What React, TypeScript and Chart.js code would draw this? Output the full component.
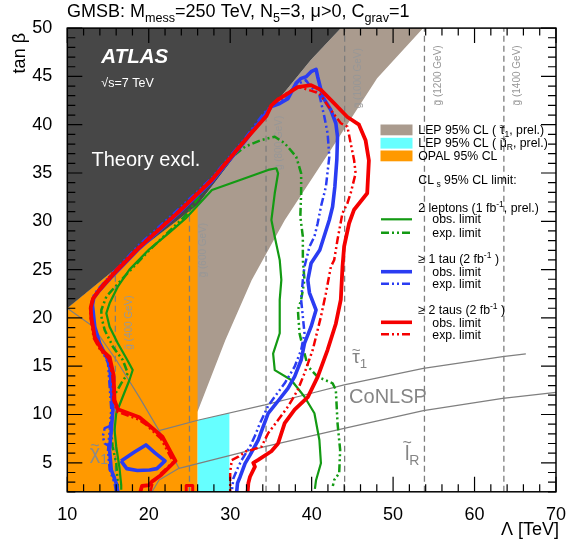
import React, { useEffect, useRef } from "react";
import { Chart, registerables } from "chart.js";

Chart.register(...registerables);

type Pt = [number, number];

// ---------- axes ----------
const lambdaRange: Pt = [10, 70];
const tanbRange: Pt = [2, 50];
const xTickValues = [10, 20, 30, 40, 50, 60, 70];
const yTickValues = [5, 10, 15, 20, 25, 30, 35, 40, 45, 50];
const xMinorStep = 2;
const yMinorStep = 1;

// ---------- excluded regions ----------
const theoryBoundary: Pt[] = [[10, 21.0], [18, 26.5], [26, 31.7], [30, 36.1], [34.66, 41.3], [39.9, 46.7], [43.6, 50]];
const lepStauEdge: Pt[] = [[53.7, 50], [48.04, 44.8], [42.36, 37.4], [36.69, 30.1], [32.63, 23.9], [29.4, 17.7], [26.0, 10.3]];
const opalEdgeLambda = 26.0;
const lepSmuonBox: Pt[] = [[26.0, 2], [29.9, 2], [29.9, 10.15], [26.0, 9.4]];

// ---------- gluino mass contours ----------
const gluinoLambda = [15.9, 25.0, 34.4, 44.05, 53.85, 63.6];
const gluinoMass = [400, 600, 800, 1000, 1200, 1400];
const gluinoLabelTanb = [16.7, 24.2, 35.3, 41.7, 42.0, 42.0];

// ---------- NLSP boundaries ----------
const neutralinoEdge: Pt[] = [[10, 21.0], [13.16, 19.1], [16.01, 15.64], [18.84, 11.8], [21.27, 8.33], [23.71, 4.43], [21.27, 3.22], [20.4, 2.0]];
const stauEdge: Pt[] = [[21.27, 8.33], [26.14, 9.43], [34.26, 10.99], [39.12, 12.02], [43.99, 13.06], [53.72, 14.78], [63.45, 15.99], [66.3, 16.27]];
const sleptonEdge: Pt[] = [[23.71, 4.43], [26.14, 4.95], [34.26, 6.67], [43.99, 8.57], [53.72, 10.4], [63.45, 11.68], [70, 12.3]];

// ---------- 2 leptons ----------
const twoLepObs: Pt[] = [[16.62, 2.2], [16.62, 2.7], [16.41, 4.46], [16.01, 6.67], [15.8, 8.4], [16.01, 10.13], [16.81, 11.84], [17.63, 13.57], [18.03, 14.61], [17.23, 15.85], [16.2, 17.37], [15.19, 19.09], [14.79, 20.48], [15.19, 21.51], [16.2, 23.23], [17.63, 25.0], [20.06, 27.1], [22.49, 28.8], [24.53, 30.3], [27.76, 33.24], [31.82, 34.45], [34.66, 35.32], [35.67, 35.49], [35.88, 34.97], [35.47, 32.9], [35.06, 30.14], [35.47, 28.41], [36.08, 26.0], [36.28, 23.93], [36.08, 21.86], [36.08, 18.41], [35.27, 16.3], [35.47, 14.6], [37.49, 13.57], [39.12, 11.84], [40.34, 10.13], [40.95, 7.36], [41.14, 4.95], [40.54, 3.2], [40.4, 2.3]];
const twoLepExp: Pt[] = [[16.2, 2.0], [16.2, 2.88], [16.01, 4.95], [15.56, 6.67], [15.38, 8.4], [15.4, 9.77], [15.8, 12.0], [16.6, 13.2], [17.43, 14.27], [16.81, 15.64], [15.6, 17.02], [14.59, 18.75], [14.18, 20.13], [14.18, 20.82], [14.79, 22.2], [16.62, 23.93], [20.06, 27.0], [24.53, 30.6], [27.36, 33.94], [29.79, 36.35], [31.82, 37.73], [33.84, 38.42], [35.47, 38.76], [36.69, 38.08], [38.1, 36.69], [38.71, 34.97], [38.71, 32.9], [38.61, 30.48], [38.92, 28.41], [38.92, 26.0], [39.12, 23.93], [38.71, 21.86], [38.31, 20.82], [38.51, 18.41], [38.71, 17.7], [39.53, 15.0], [40.74, 13.9], [42.57, 13.23], [42.97, 12.54], [43.18, 9.09], [43.5, 6.33], [43.38, 3.92], [42.77, 3.22], [42.6, 2.6]];

// ---------- >= 1 tau ----------
const oneTauObs: Pt[] = [[16.2, 2.0], [16.01, 2.88], [15.4, 4.26], [15.19, 6.33], [15.4, 8.4], [15.6, 10.47], [15.4, 12.88], [15.19, 15.3], [14.99, 15.64], [13.98, 17.37], [13.37, 19.09], [13.09, 21.34], [13.25, 22.06], [13.8, 22.7], [15.5, 24.3], [18.84, 27.2], [23.71, 30.9], [27.73, 34.1], [31.82, 38.3], [34.05, 40.8], [35.06, 41.87], [36.08, 42.2], [37.09, 42.7], [38.1, 44.3], [38.71, 44.8], [39.32, 44.97], [39.93, 45.49], [40.54, 45.74], [40.74, 44.97], [41.35, 42.9], [42.36, 41.52], [42.97, 40.15], [43.18, 38.76], [43.09, 36.35], [42.85, 33.58], [42.57, 31.51], [42.17, 30.14], [41.0, 27.03], [39.93, 25.65], [39.53, 23.9], [39.73, 22.6], [40.54, 20.82], [39.93, 19.09], [39.12, 17.37], [38.71, 15.64], [37.91, 13.92], [37.09, 12.7], [35.88, 11.4], [34.66, 10.13], [34.05, 8.74], [33.44, 7.36], [32.43, 5.8], [31.83, 4.95], [31.22, 3.56], [30.9, 2.9], [30.8, 2.0]];
const oneTauObsLoop: Pt[] = [[16.6, 5.2], [18.2, 6.1], [19.65, 6.85], [20.8, 6.0], [22.0, 5.2], [21.0, 4.4], [20.1, 4.25], [18.6, 4.2], [17.3, 4.4], [16.6, 5.2]];
const oneTauExp: Pt[] = [[16.0, 2.0], [15.8, 2.9], [15.2, 4.3], [15.0, 6.3], [15.2, 8.4], [15.4, 10.5], [15.2, 12.9], [15.0, 15.3], [14.8, 15.7], [13.8, 17.4], [13.2, 19.1], [12.95, 21.3], [13.1, 22.1], [13.7, 22.9], [15.5, 24.6], [18.84, 27.6], [23.71, 31.3], [27.73, 34.5], [31.82, 38.6], [34.05, 41.1], [35.06, 42.0], [36.5, 42.6], [38.2, 44.2], [39.3, 44.6], [39.73, 44.1], [40.95, 43.07], [41.56, 40.83], [41.96, 39.11], [42.17, 36.69], [41.75, 33.58], [41.14, 31.51], [40.74, 29.8], [40.34, 28.41], [39.73, 27.37], [39.12, 25.3], [38.92, 23.93], [38.71, 21.86], [38.92, 20.13], [39.12, 18.41], [38.71, 16.68], [37.91, 14.95], [36.69, 13.23], [35.47, 11.84], [34.66, 10.9], [33.65, 9.09], [33.04, 7.8], [32.43, 6.67], [31.41, 5.29], [31.0, 4.6], [30.4, 3.4], [30.19, 2.0]];
const oneTauExpArc: Pt[] = [[15.2, 8.8], [14.6, 8.6], [14.35, 7.7], [14.6, 7.0], [15.2, 6.7]];

// ---------- >= 2 taus ----------
const twoTauObs: Pt[] = [[18.97, 2.0], [19.17, 2.6], [20.06, 2.7], [20.39, 3.05], [21.52, 3.74], [23.28, 5.19], [21.68, 7.7], [19.7, 9.12], [18.84, 9.71], [16.2, 10.54], [15.8, 11.5], [15.68, 14.1], [15.19, 15.95], [14.22, 16.7], [13.37, 18.0], [12.94, 20.1], [12.88, 21.1], [13.16, 22.0], [13.77, 22.7], [15.5, 24.4], [18.84, 27.3], [23.71, 31.0], [27.76, 34.3], [31.82, 38.4], [34.45, 40.9], [35.06, 42.0], [35.88, 42.6], [38.3, 43.9], [39.93, 44.1], [41.14, 43.6], [42.77, 42.2], [44.39, 40.8], [45.81, 40.0], [46.62, 38.4], [47.03, 36.3], [46.82, 32.9], [45.21, 31.2], [44.6, 29.8], [43.99, 27.4], [43.79, 25.3], [43.58, 21.9], [42.97, 19.4], [41.96, 16.7], [40.74, 13.9], [39.53, 11.8], [37.91, 10.5], [36.69, 9.1], [35.88, 7.0], [35.06, 6.2], [33.44, 5.3], [32.83, 5.0], [33.04, 4.6], [32.43, 3.56], [32.23, 2.9], [32.14, 2.0]];
const twoTauObsIsland: Pt[] = [[24.6, 2.0], [24.6, 2.65], [25.4, 2.65], [25.4, 2.0]];
const twoTauExp: Pt[] = [[20.2, 2.0], [20.5, 3.0], [21.5, 3.9], [23.0, 5.1], [21.5, 7.5], [19.6, 9.0], [18.7, 9.5], [16.1, 10.3], [15.65, 11.5], [15.55, 14.0], [15.05, 15.8], [14.1, 16.6], [13.25, 17.9], [12.85, 20.0], [12.8, 21.0], [13.1, 22.0], [13.7, 22.8], [15.5, 24.6], [18.84, 27.4], [23.71, 31.1], [27.76, 34.4], [31.82, 38.5], [34.45, 41.0], [35.06, 42.1], [35.88, 42.7], [38.3, 43.94], [40.95, 43.25], [42.36, 41.52], [43.58, 40.15], [44.39, 39.8], [44.79, 38.08], [45.21, 36.35], [45.4, 34.97], [44.79, 32.9], [44.39, 31.87], [43.78, 30.83], [43.17, 28.07], [42.77, 26.0], [42.36, 25.3], [41.75, 22.55], [41.14, 20.13], [40.13, 16.68], [39.12, 14.27], [38.3, 12.54], [37.09, 10.81], [35.88, 9.43], [34.66, 8.06], [33.84, 6.67], [32.63, 6.33], [31.94, 6.2], [31.01, 5.63], [30.19, 5.29], [30.0, 4.0], [30.0, 2.0]];

// ---------- styling ----------
const FONT = "'Liberation Sans', Arial, Helvetica, sans-serif";
const C_DARK = "#474747";
const C_BROWN = "#aa9b8e";
const C_CYAN = "#66ffff";
const C_ORANGE = "#ff9900";
const C_GREY = "#7f7f7f";
const C_GREEN = "#139a13";
const C_BLUE = "#2a3cf2";
const C_RED = "#f50000";
const DASH_EXP = [8, 3, 2, 3, 2, 3];

type Seg = { t: string; s?: "sub" | "sup"; tilde?: boolean; tall?: boolean };

function rich(ctx: CanvasRenderingContext2D, segs: Seg[], x: number, y: number, size: number, color: string, weight = "") {
  ctx.save();
  ctx.fillStyle = color;
  ctx.textAlign = "left";
  ctx.textBaseline = "alphabetic";
  let cx = x;
  for (const seg of segs) {
    const fs = seg.s ? size * 0.7 : size;
    const dy = seg.s === "sub" ? size * 0.25 : seg.s === "sup" ? -size * 0.4 : 0;
    ctx.font = `${weight} ${fs}px ${FONT}`;
    ctx.fillText(seg.t, cx, y + dy);
    const w = ctx.measureText(seg.t).width;
    if (seg.tilde) {
      ctx.font = `${fs * 0.8}px ${FONT}`;
      const tw = ctx.measureText("~").width;
      ctx.fillText("~", cx + w / 2 - tw / 2, y + dy - fs * (seg.tall ? 0.62 : 0.42));
      ctx.font = `${weight} ${fs}px ${FONT}`;
    }
    cx += w;
  }
  ctx.restore();
  return cx;
}

const xy = (pts: Pt[]) => pts.map(([x, y]) => ({ x, y }));

function lineDs(label: string, pts: Pt[], color: string, width: number, dash: number[], order: number) {
  return {
    label, data: xy(pts), borderColor: color, borderWidth: width, borderDash: dash,
    borderJoinStyle: "round", borderCapStyle: "butt", pointRadius: 0, pointHoverRadius: 0,
    pointHitRadius: 0, tension: 0, fill: false, order,
  };
}
function regionDs(label: string, pts: Pt[], color: string, order: number) {
  return {
    label, data: xy(pts), borderColor: "rgba(0,0,0,0)", borderWidth: 0, backgroundColor: color,
    pointRadius: 0, pointHoverRadius: 0, pointHitRadius: 0, tension: 0, fill: "shape", order,
  };
}

export default function App() {
  const ref = useRef<HTMLCanvasElement>(null);

  useEffect(() => {
    const canvas = ref.current;
    if (!canvas) return;

    const theoryRegion: Pt[] = [...theoryBoundary, [lambdaRange[0], tanbRange[1]]];
    const lepStauRegion: Pt[] = [...theoryBoundary, ...lepStauEdge, [lambdaRange[0], 10.3]];
    const opalRegion: Pt[] = [
      [lambdaRange[0], tanbRange[0]], [opalEdgeLambda, tanbRange[0]],
      ...theoryBoundary.filter((p) => p[0] <= opalEdgeLambda).reverse(),
    ];

    const datasets: any[] = [
      regionDs("lepStau", lepStauRegion, C_BROWN, 20),
      regionDs("opal", opalRegion, C_ORANGE, 19),
      regionDs("lepSmuon", lepSmuonBox, C_CYAN, 18),
      ...gluinoLambda.map((l, i) =>
        lineDs("gluino" + gluinoMass[i], [[l, tanbRange[0]], [l, tanbRange[1]]], "#7d7d7d", 1.3, [6, 4], 17)),
      lineDs("neutralinoEdge", neutralinoEdge, C_GREY, 1.2, [], 16),
      lineDs("stauEdge", stauEdge, C_GREY, 1.2, [], 16),
      lineDs("sleptonEdge", sleptonEdge, C_GREY, 1.2, [], 16),
      regionDs("theory", theoryRegion, C_DARK, 15),
      lineDs("twoLepExp", twoLepExp, C_GREEN, 2.5, DASH_EXP, 10),
      lineDs("twoLepObs", twoLepObs, C_GREEN, 2.2, [], 9),
      lineDs("oneTauExp", oneTauExp, C_BLUE, 2.5, DASH_EXP, 8),
      lineDs("oneTauExpArc", oneTauExpArc, C_BLUE, 2.5, DASH_EXP, 8),
      lineDs("oneTauObs", oneTauObs, C_BLUE, 3.6, [], 7),
      lineDs("oneTauObsLoop", oneTauObsLoop, C_BLUE, 3.6, [], 7),
      lineDs("twoTauExp", twoTauExp, C_RED, 2.5, DASH_EXP, 6),
      lineDs("twoTauObs", twoTauObs, C_RED, 3.8, [], 5),
      lineDs("twoTauObsIsland", twoTauObsIsland, C_RED, 3.0, [], 5),
    ];

    const plotTexts = {
      id: "plotTexts",
      beforeDatasetDraw(chart: any, args: any) {
        if (chart.data.datasets[args.index].label !== "twoLepExp") return;
        const { ctx } = chart;
        const X = (v: number) => chart.scales.x.getPixelForValue(v);
        const Y = (v: number) => chart.scales.y.getPixelForValue(v);
        ctx.save();
        ctx.beginPath();
        const a = chart.chartArea;
        ctx.rect(a.left, a.top, a.right - a.left, a.bottom - a.top);
        ctx.clip();
        gluinoLambda.forEach((l, i) => {
          ctx.save();
          ctx.translate(X(l + 2.0), Y(gluinoLabelTanb[i]));
          ctx.rotate(-Math.PI / 2);
          rich(ctx, [{ t: "g", tilde: true }, { t: ` (${gluinoMass[i]} GeV)` }], 0, 0, 10, "#979797");
          ctx.restore();
        });
        rich(ctx, [{ t: "τ", tilde: true }, { t: "1", s: "sub" }], X(45.0), Y(15.3), 19, "#858585");
        rich(ctx, [{ t: "CoNLSP" }], X(44.6), Y(11.16), 20, "#858585");
        rich(ctx, [{ t: "l", tilde: true, tall: true }, { t: "R", s: "sub" }], X(51.45), Y(5.3), 20, "#858585");
        rich(ctx, [{ t: "χ", tilde: true }, { t: "1", s: "sub" }], X(12.76), Y(5.4), 20, "#8a8a8a");
        ctx.restore();
      },
      afterDatasetsDraw(chart: any) {
        const { ctx } = chart;
        const a = chart.chartArea;
        const xs = chart.scales.x, ys = chart.scales.y;
        const X = (v: number) => xs.getPixelForValue(v);
        const Y = (v: number) => ys.getPixelForValue(v);
        rich(ctx, [{ t: "ATLAS" }], X(14.18), Y(46.43), 20.5, "#ffffff", "italic bold");
        rich(ctx, [{ t: "√s=7 TeV" }], X(14.18), Y(43.9), 12.5, "#ffffff");
        rich(ctx, [{ t: "Theory excl." }], X(12.97), Y(35.76), 20, "#ffffff");
        ctx.save();
        ctx.strokeStyle = "#000";
        ctx.lineWidth = 1.5;
        ctx.strokeRect(a.left, a.top, a.right - a.left, a.bottom - a.top);
        ctx.lineWidth = 1.2;
        ctx.beginPath();
        for (let v = lambdaRange[0]; v <= lambdaRange[1] + 1e-9; v += xMinorStep) {
          const px = X(v);
          const len = xTickValues.includes(v) ? 15 : 7.5;
          ctx.moveTo(px, a.bottom); ctx.lineTo(px, a.bottom - len);
          ctx.moveTo(px, a.top); ctx.lineTo(px, a.top + len);
        }
        for (let v = tanbRange[0]; v <= tanbRange[1] + 1e-9; v += yMinorStep) {
          const py = Y(v);
          const len = yTickValues.includes(v) ? 15 : 8;
          ctx.moveTo(a.left, py); ctx.lineTo(a.left + len, py);
          ctx.moveTo(a.right, py); ctx.lineTo(a.right - len, py);
        }
        ctx.stroke();
        ctx.restore();
      },
      afterDraw(chart: any) {
        const { ctx } = chart;
        rich(ctx, [{ t: "GMSB: M" }, { t: "mess", s: "sub" }, { t: "=250 TeV, N" }, { t: "5", s: "sub" },
          { t: "=3, μ>0, C" }, { t: "grav", s: "sub" }, { t: "=1" }], 67, 17, 18, "#000");
        ctx.save();
        ctx.fillStyle = "#000";
        ctx.font = `18px ${FONT}`;
        ctx.textAlign = "right";
        ctx.textBaseline = "alphabetic";
        ctx.fillText("Λ [TeV]", 559, 535);
        ctx.translate(25, 33);
        ctx.rotate(-Math.PI / 2);
        ctx.fillText("tan β", 0, 0);
        ctx.restore();
        ctx.save();
        const boxes: [string, number][] = [[C_BROWN, 124.5], [C_CYAN, 137.8], [C_ORANGE, 150.5]];
        boxes.forEach(([c, y]) => { ctx.fillStyle = c; ctx.fillRect(380.5, y, 32, 10.8); });
        const samples: [string, number, number, number[]][] = [
          [C_GREEN, 219.3, 2.2, []], [C_GREEN, 232.7, 2.5, DASH_EXP],
          [C_BLUE, 271.7, 3.6, []], [C_BLUE, 283.7, 2.5, DASH_EXP],
          [C_RED, 322.3, 3.6, []], [C_RED, 334.3, 2.5, DASH_EXP],
        ];
        samples.forEach(([c, y, w, d]) => {
          ctx.strokeStyle = c; ctx.lineWidth = w; ctx.setLineDash(d);
          ctx.beginPath(); ctx.moveTo(381, y); ctx.lineTo(412, y); ctx.stroke();
        });
        ctx.restore();
        const fs = 12.3;
        const lx = 418.3, ox = 432.3;
        rich(ctx, [{ t: "LEP 95% CL ( " }, { t: "τ", tilde: true }, { t: "1", s: "sub" }, { t: ", prel.)" }], lx, 134.3, fs, "#000");
        rich(ctx, [{ t: "LEP 95% CL ( " }, { t: "μ", tilde: true }, { t: "R", s: "sub" }, { t: ", prel.)" }], lx, 146.9, fs, "#000");
        rich(ctx, [{ t: "OPAL 95% CL" }], lx, 160, fs, "#000");
        rich(ctx, [{ t: "CL" }, { t: " s", s: "sub" }, { t: " 95% CL limit:" }], lx, 184, fs, "#000");
        rich(ctx, [{ t: "2 leptons (1 fb" }, { t: "-1", s: "sup" }, { t: ", prel.)" }], lx, 211.7, fs, "#000");
        rich(ctx, [{ t: "obs. limit" }], ox, 223.3, fs, "#000");
        rich(ctx, [{ t: "exp. limit" }], ox, 236.7, fs, "#000");
        rich(ctx, [{ t: "≥ 1 tau (2 fb" }, { t: "-1", s: "sup" }, { t: " )" }], lx, 262.7, fs, "#000");
        rich(ctx, [{ t: "obs. limit" }], ox, 275.7, fs, "#000");
        rich(ctx, [{ t: "exp. limit" }], ox, 287.5, fs, "#000");
        rich(ctx, [{ t: "≥ 2 taus (2 fb" }, { t: "-1", s: "sup" }, { t: " )" }], lx, 314, fs, "#000");
        rich(ctx, [{ t: "obs. limit" }], ox, 326.7, fs, "#000");
        rich(ctx, [{ t: "exp. limit" }], ox, 338.5, fs, "#000");
      },
    };

    Chart.defaults.font.family = FONT;

    const chart = new Chart(canvas, {
      type: "line",
      data: { datasets },
      options: {
        responsive: false,
        animation: false,
        events: [],
        layout: { padding: { top: 28.1, right: 0, bottom: 0, left: 0 } },
        plugins: { legend: { display: false }, tooltip: { enabled: false }, title: { display: false } },
        scales: {
          x: {
            type: "linear", min: lambdaRange[0], max: lambdaRange[1],
            afterBuildTicks: (s: any) => { s.ticks = xTickValues.map((v) => ({ value: v })); },
            afterFit: (s: any) => { s.height = 50.2; },
            grid: { display: false }, border: { display: false },
            ticks: { font: { size: 18, family: FONT }, color: "#000", padding: 4, maxRotation: 0, autoSkip: false },
          },
          y: {
            type: "linear", min: tanbRange[0], max: tanbRange[1],
            afterBuildTicks: (s: any) => { s.ticks = yTickValues.map((v) => ({ value: v })); },
            afterFit: (s: any) => { s.width = 67.3; },
            grid: { display: false }, border: { display: false },
            ticks: { font: { size: 18, family: FONT }, color: "#000", padding: 7, autoSkip: false },
          },
        },
      } as any,
      plugins: [plotTexts as any],
    });
    return () => chart.destroy();
  }, []);

  return (
    <div style={{ position: "fixed", left: 0, top: 0, width: 570, height: 542, background: "#fff" }}>
      <canvas ref={ref} width={570} height={542} style={{ display: "block", width: 570, height: 542 }} />
    </div>
  );
}
